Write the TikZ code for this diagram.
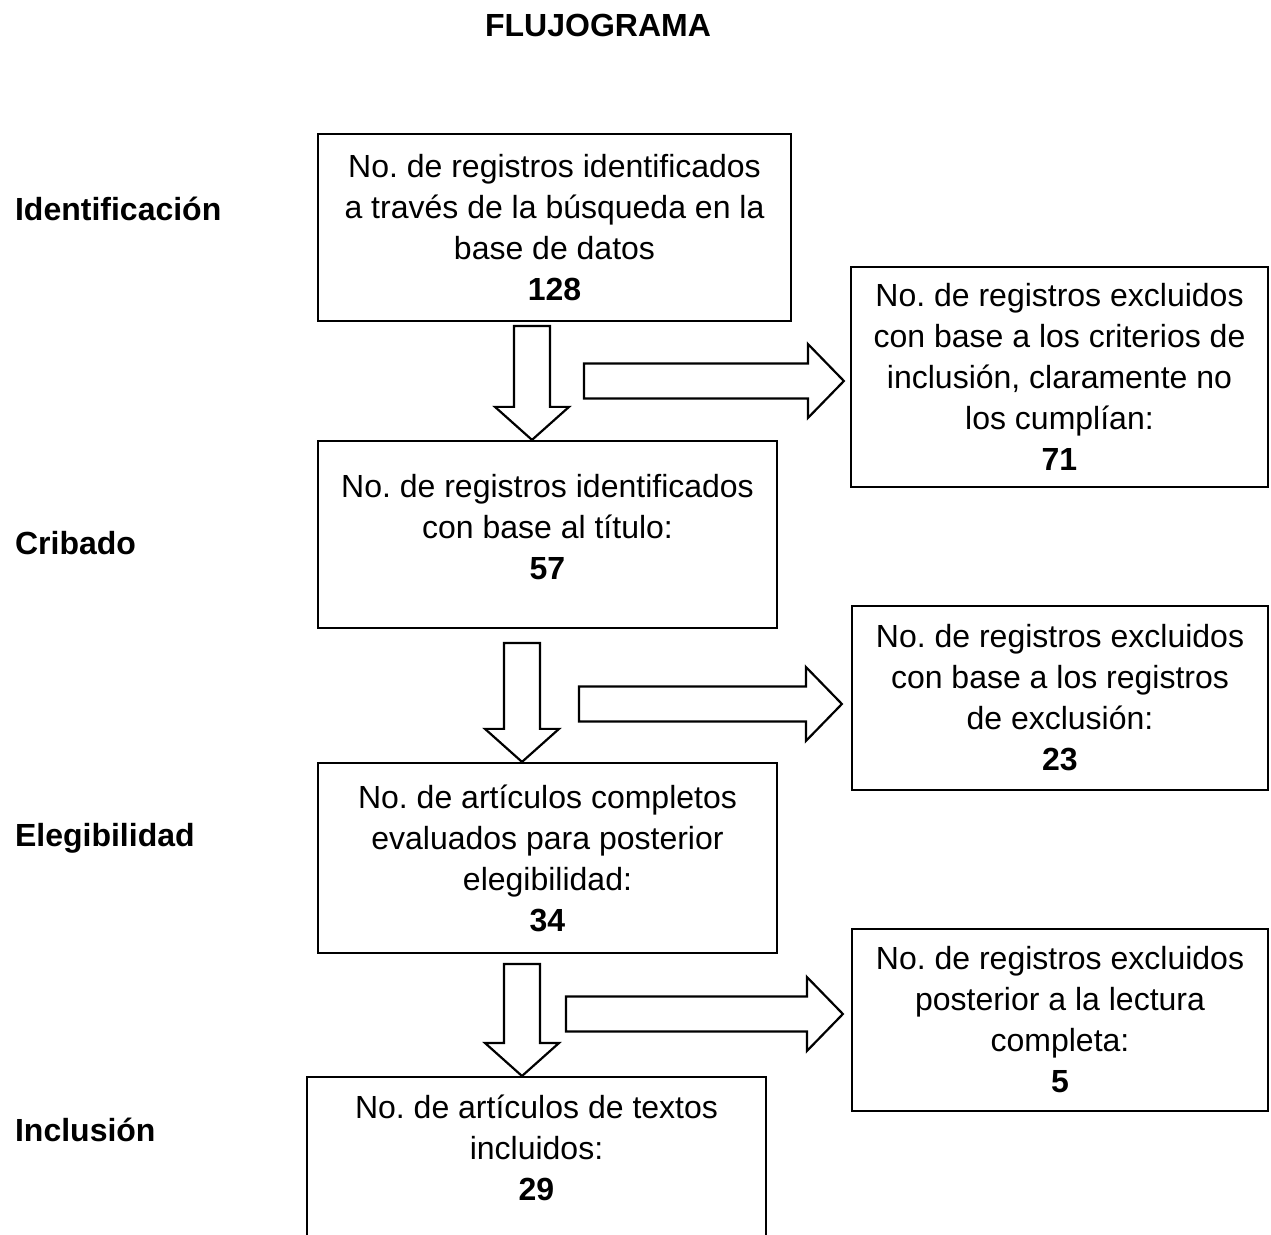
\documentclass[tikz,border=0pt]{standalone}
\usepackage{fontspec}
\setmainfont{Liberation Sans}
\frenchspacing
\usetikzlibrary{calc}

\tikzset{
  caja/.style={draw, line width=1.1pt, align=center, font=\fontsize{16}{20.5}\selectfont},
  texto/.style={align=center, font=\fontsize{16}{20.5}\selectfont},
  etapa/.style={anchor=base west, font=\fontsize{16}{20.5}\selectfont\bfseries},
  bloque/.style={draw, line width=1.1pt, line join=miter, fill=white},
}

% flecha de bloque hacia abajo: x, caja de arriba, hueco, caja de abajo
\newcommand{\flechaabajo}[4]{%
  \coordinate (fa) at ($(#1,0 |- #2.south)+(0,#3)$);
  \coordinate (fb) at (#1,0 |- #4.north);
  \draw[bloque] ($(fa)+(-18,0)$) -- ($(fa)+(18,0)$) -- ($(fb)+(18,-33)$)
    -- ($(fb)+(37,-33)$) -- (fb) -- ($(fb)+(-37,-33)$) -- ($(fb)+(-18,-33)$) -- cycle;
}
% flecha de bloque hacia la derecha: x de la cola, y, caja de la derecha, hueco
\newcommand{\flechaderecha}[4]{%
  \coordinate (fa) at (#1,#2);
  \coordinate (fb) at ($(#3.west |- fa)+(-#4,0)$);
  \draw[bloque] ($(fa)+(0,-17.5)$) -- ($(fb)+(-36,-17.5)$) -- ($(fb)+(-36,-37)$)
    -- (fb) -- ($(fb)+(-36,37)$) -- ($(fb)+(-36,17.5)$) -- ($(fa)+(0,17.5)$) -- cycle;
}

\begin{document}
\begin{tikzpicture}[x=0.5pt, y=-0.5pt]
\useasboundingbox (0,0) rectangle (1271,1235);

\node[anchor=base, font=\fontsize{16}{20.5}\selectfont\bfseries] (titulo) at (598,37) {FLUJOGRAMA};

% etapas
\node[etapa] (e1) at (8,221) {Identificación};
\node[etapa] (e2) at (8,555) {Cribado};
\node[etapa] (e3) at (8,847) {Elegibilidad};
\node[etapa] (e4) at (8,1141) {Inclusión};

% columna principal
\node[caja, minimum width=236.5pt, minimum height=93.5pt] (ident) at (554.5,227.5)
  {No. de registros identificados\\ a través de la búsqueda en la\\ base de datos\\ \textbf{128}};
\node[caja, minimum width=229.5pt, minimum height=93.5pt] (crib) at (547.5,534.5) {};
\node[texto] (cribtxt) at ($(crib.center)+(0,-7)$)
  {No. de registros identificados\\ con base al título:\\ \textbf{57}};
\node[caja, minimum width=229.5pt, minimum height=95pt] (eleg) at (547.5,858)
  {No. de artículos completos\\ evaluados para posterior\\ elegibilidad:\\ \textbf{34}};
\node[caja, minimum width=229.5pt, minimum height=200pt, anchor=north] (incl) at (536.5,1076) {};
\node[texto] (incltxt) at ($(incl.north)+(0,72)$)
  {No. de artículos de textos\\ incluidos:\\ \textbf{29}};

% excluidos
\node[caja, minimum width=208.5pt, minimum height=110pt] (exclA) at (1059.5,377)
  {No. de registros excluidos\\ con base a los criterios de\\ inclusión, claramente no\\ los cumplían:\\ \textbf{71}};
\node[caja, minimum width=208pt, minimum height=92pt] (exclB) at (1060,698)
  {No. de registros excluidos\\ con base a los registros\\ de exclusión:\\ \textbf{23}};
\node[caja, minimum width=208pt, minimum height=91pt] (exclC) at (1060,1020)
  {No. de registros excluidos\\ posterior a la lectura\\ completa:\\ \textbf{5}};

% flechas
\flechaabajo{532}{ident}{4}{crib}
\flechaabajo{522}{crib}{14}{eleg}
\flechaabajo{522}{eleg}{10}{incl}
\flechaderecha{584}{381}{exclA}{6}
\flechaderecha{579}{704}{exclB}{9}
\flechaderecha{566}{1014}{exclC}{8}
\end{tikzpicture}
\end{document}
